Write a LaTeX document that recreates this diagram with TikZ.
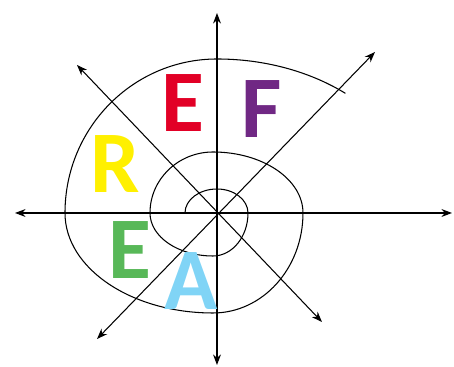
\documentclass[tikz,border=0pt]{standalone}
\usepackage{fontspec}
\setmainfont{Carlito}
\usepackage{tikz}
\usetikzlibrary{arrows.meta}
\definecolor{eRed}{RGB}{226,0,38}
\definecolor{fPurple}{RGB}{112,40,132}
\definecolor{rYellow}{RGB}{255,240,0}
\definecolor{eGreen}{RGB}{88,184,88}
\definecolor{aBlue}{RGB}{128,212,246}

\begin{document}
\begin{tikzpicture}
\tikzset{axis/.style={<->,>={Stealth[length=6pt,width=4.5pt]},line width=0.6pt}}
\tikzset{letter/.style={font=\fontsize{50}{50}\selectfont\bfseries,inner sep=0pt}}
\useasboundingbox (-4.34,-3.08) rectangle (4.74,4.26);
\coordinate (W) at (-4.04,0);
\coordinate (E) at (4.70,0);
\coordinate (N) at (0,4.00);
\coordinate (S) at (0,-3.04);
\coordinate (NW) at (-2.80,2.96);
\coordinate (SE) at (2.10,-2.18);
\coordinate (SW) at (-2.40,-2.52);
\coordinate (NE) at (3.16,3.22);
\coordinate (start) at (-0.64,0);

\draw[axis] (W) -- (E);
\draw[axis] (S) -- (N);
\draw[axis] (NW) -- (SE);
\draw[axis] (SW) -- (NE);

% spiral, one quarter at a time
\draw[line width=0.6pt] (start)
  arc[start angle=180,end angle=90,x radius=0.64,y radius=0.48]
  arc[start angle=90,end angle=0,x radius=0.62,y radius=0.48]
  arc[start angle=0,end angle=-90,x radius=0.70,y radius=0.86]
  arc[start angle=-90,end angle=-180,x radius=1.26,y radius=0.86]
  arc[start angle=180,end angle=90,x radius=1.26,y radius=1.22]
  arc[start angle=90,end angle=0,x radius=1.80,y radius=1.22]
  arc[start angle=0,end angle=-90,x radius=1.80,y radius=2.00]
  arc[start angle=-90,end angle=-180,x radius=2.96,y radius=2.00]
  arc[start angle=180,end angle=90,x radius=3.04,y radius=3.08]
  arc[start angle=90,end angle=51,x radius=4.08,y radius=3.08];

\node (e1) at (-0.68,2.20) [letter,text=eRed] {E};
\node (f) at (0.90,2.08) [letter,text=fPurple] {F};
\node (r) at (-2.04,0.98) [letter,text=rYellow] {R};
\node (e2) at (-1.74,-0.74) [letter,text=eGreen] {E};
\node (a) at (-0.52,-1.36) [letter,text=aBlue] {A};
\end{tikzpicture}
\end{document}
